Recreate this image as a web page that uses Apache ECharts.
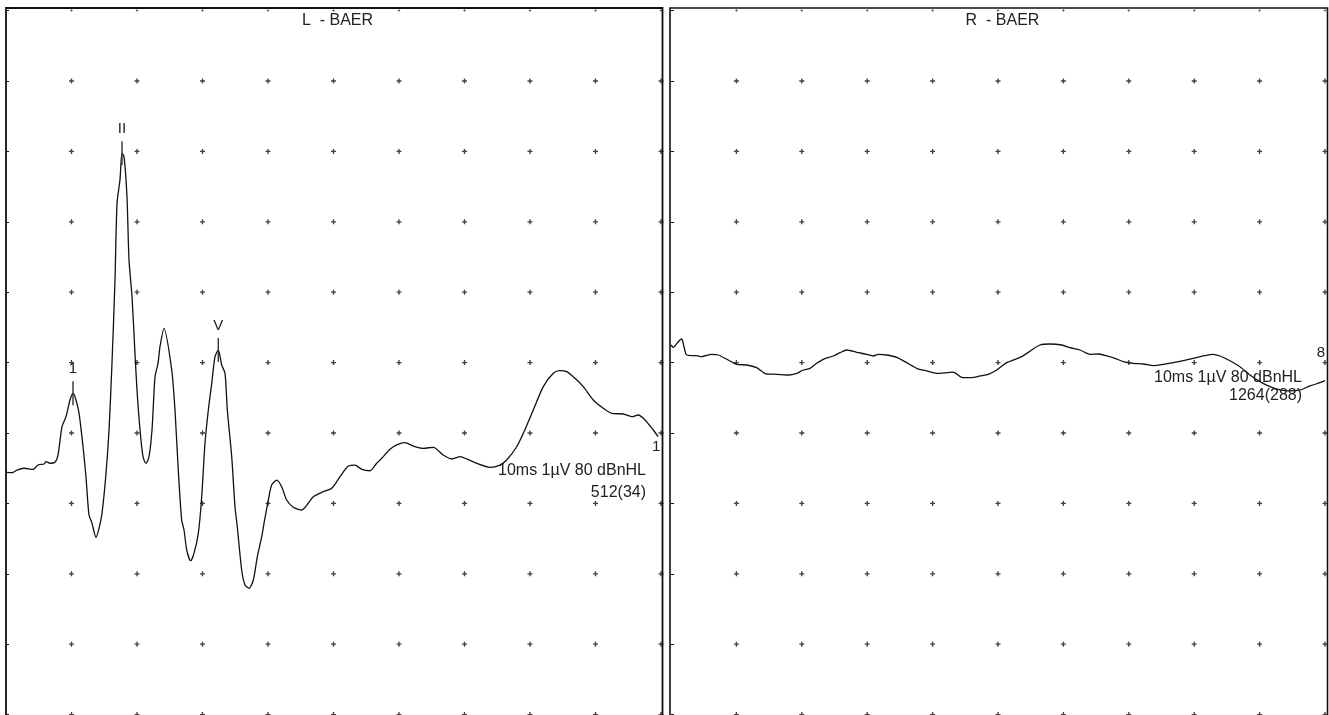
<!DOCTYPE html>
<html>
<head>
<meta charset="utf-8">
<title>BAER</title>
<script src="https://cdn.jsdelivr.net/npm/echarts@6/dist/echarts.min.js"></script>
<style>
html, body { margin: 0; padding: 0; background: #fff; }
#chart { width: 1329px; height: 715px; }
</style>
</head>
<body>
<div id="chart"></div>
<script>
// time in ms, amplitude in divisions
var leftTrace = [
	[0, -1.558], [0.092, -1.564], [0.168, -1.526], [0.275, -1.501], [0.412, -1.516], [0.489, -1.455],
	[0.580, -1.440], [0.611, -1.408], [0.672, -1.430], [0.748, -1.416], [0.794, -1.313], [0.855, -0.911],
	[0.916, -0.768], [0.977, -0.531], [1.023, -0.436], [1.053, -0.484], [1.115, -0.720], [1.176, -1.195],
	[1.221, -1.621], [1.267, -2.165], [1.313, -2.283], [1.374, -2.482], [1.420, -2.354], [1.466, -2.141],
	[1.527, -1.572], [1.573, -0.957], [1.618, -0.010], [1.664, 1.173], [1.695, 2.263], [1.740, 2.594],
	[1.771, 2.973], [1.802, 2.925], [1.847, 2.357], [1.878, 1.457], [1.924, 0.936], [1.969, 0.132],
	[2.000, -0.389], [2.046, -0.957], [2.092, -1.337], [2.137, -1.430], [2.183, -1.337], [2.229, -0.957],
	[2.275, -0.200], [2.321, -0.010], [2.351, 0.226], [2.412, 0.487], [2.530, -0.105], [2.580, -0.673],
	[2.630, -1.526], [2.682, -2.236], [2.718, -2.378], [2.759, -2.662], [2.820, -2.814], [2.870, -2.709],
	[2.936, -2.425], [2.988, -1.905], [3.038, -1.146], [3.089, -0.673], [3.141, -0.294], [3.191, 0.084],
	[3.241, 0.179], [3.293, -0.034], [3.344, -0.152], [3.379, -0.673], [3.446, -1.337], [3.496, -2.047],
	[3.531, -2.331], [3.598, -2.946], [3.649, -3.159], [3.710, -3.206], [3.776, -3.088], [3.837, -2.757],
	[3.904, -2.473], [3.939, -2.283], [4.005, -1.952], [4.056, -1.739], [4.133, -1.668], [4.209, -1.763],
	[4.285, -1.952], [4.386, -2.055], [4.514, -2.094], [4.692, -1.905], [4.844, -1.834], [4.973, -1.786],
	[5.099, -1.621], [5.226, -1.469], [5.328, -1.455], [5.431, -1.516], [5.557, -1.536], [5.659, -1.430],
	[5.736, -1.359], [5.863, -1.232], [5.965, -1.170], [6.092, -1.138], [6.218, -1.185], [6.371, -1.217],
	[6.524, -1.203], [6.676, -1.313], [6.805, -1.369], [6.931, -1.337], [7.034, -1.369], [7.186, -1.430],
	[7.389, -1.487], [7.542, -1.455], [7.644, -1.384], [7.797, -1.195], [7.898, -1.004], [8.050, -0.673],
	[8.203, -0.342], [8.356, -0.152], [8.458, -0.115], [8.560, -0.129], [8.687, -0.223], [8.814, -0.342],
	[8.966, -0.531], [9.119, -0.649], [9.247, -0.720], [9.424, -0.730], [9.553, -0.768], [9.653, -0.744],
	[9.756, -0.815], [9.882, -0.957], [9.958, -1.053]
];

var rightTrace = [
	[0, 0.250], [0.035, 0.217], [0.112, 0.297], [0.164, 0.335], [0.199, 0.226], [0.240, 0.108],
	[0.393, 0.098], [0.469, 0.084], [0.622, 0.118], [0.723, 0.108], [0.852, 0.047], [1.005, -0.024],
	[1.157, -0.034], [1.310, -0.072], [1.463, -0.162], [1.616, -0.166], [1.794, -0.176], [1.922, -0.152],
	[2.023, -0.105], [2.125, -0.081], [2.228, -0.010], [2.329, 0.047], [2.482, 0.094], [2.584, 0.141],
	[2.686, 0.179], [2.839, 0.146], [2.992, 0.118], [3.093, 0.094], [3.170, 0.118], [3.298, 0.108],
	[3.451, 0.075], [3.604, -0.001], [3.757, -0.081], [3.910, -0.119], [4.063, -0.152], [4.216, -0.143],
	[4.317, -0.134], [4.445, -0.209], [4.598, -0.214], [4.725, -0.190], [4.852, -0.166], [4.980, -0.105],
	[5.133, -0.001], [5.362, 0.084], [5.515, 0.179], [5.642, 0.250], [5.795, 0.264], [5.974, 0.250],
	[6.101, 0.212], [6.254, 0.179], [6.407, 0.118], [6.534, 0.122], [6.662, 0.094], [6.789, 0.061],
	[6.916, 0.013], [7.069, -0.010], [7.222, -0.020], [7.375, -0.044], [7.528, -0.024], [7.680, -0.001],
	[7.833, 0.027], [7.986, 0.061], [8.139, 0.094], [8.292, 0.118], [8.394, 0.094], [8.547, 0.027],
	[8.700, -0.058], [8.853, -0.176], [9.006, -0.271], [9.159, -0.342], [9.312, -0.389], [9.465, -0.403],
	[9.618, -0.389], [9.771, -0.332], [9.924, -0.286], [10.0, -0.257]
];

// peak markers on the left trace
var leftPeaks = [
	{ name: '1', coord: [1.023, -0.436] },
	{ name: 'II', coord: [1.771, 2.973] },
	{ name: 'V', coord: [3.241, 0.179] }
];

var xTicks = [1, 2, 3, 4, 5, 6, 7, 8, 9, 10];
var yTicks = [-5, -4, -3, -2, -1, 0, 1, 2, 3, 4, 5];

var titles = ['L  - BAER', 'R  - BAER'];
var infoLines = [['10ms 1µV 80 dBnHL', '512(34)'], ['10ms 1µV 80 dBnHL', '1264(288)']];
var endMarks = ['1', '8'];

var dots = [];
xTicks.forEach(function(x) {
	yTicks.forEach(function(y) {
		dots.push({ value: [x, y], symbolSize: y === 5 ? 2.5 : 5 });
	});
});

var ink = '#111';
var txt = '#222';
var font = '16px "Liberation Sans", Arial, sans-serif';
var plus = 'path://M1.2,0H1.8V3H1.2ZM0.4,1.1H2.6V1.9H0.4Z';

function axisPair(i) {
	return {
		x: {
			type: 'value', gridIndex: i, min: 0, max: 10, interval: 1,
			axisLine: { show: false }, axisTick: { show: false },
			axisLabel: { show: false }, splitLine: { show: false }
		},
		y: {
			type: 'value', gridIndex: i, min: -5, max: 5, interval: 1,
			axisLine: { show: false },
			axisTick: { show: true, inside: true, length: 3, lineStyle: { color: ink } },
			axisLabel: { show: false }, splitLine: { show: false }
		}
	};
}

function label(text, x, y, align) {
	return {
		type: 'text', x: x, y: y, z: 60,
		style: { text: text, font: font, fill: txt, align: align, verticalAlign: 'middle', textAlign: align, textVerticalAlign: 'middle' }
	};
}

var a0 = axisPair(0), a1 = axisPair(1);

var myChart = echarts.init(document.getElementById('chart'));
var option = {
	animation: false,
	grid: [
		{ left: 6, top: 10.6, width: 655, height: 704 },
		{ left: 671, top: 10.6, width: 654, height: 704 }
	],
	xAxis: [a0.x, a1.x],
	yAxis: [a0.y, a1.y],
	graphic: [
		{ type: 'rect', shape: { x: 6, y: 8, width: 656.5, height: 720 }, style: { fill: 'none', stroke: ink, lineWidth: 1.8 }, z: 50 },
		{ type: 'rect', shape: { x: 670, y: 8, width: 657.5, height: 720 }, style: { fill: 'none', stroke: ink, lineWidth: 1.6 }, z: 50 },
		label(titles[0], 337.5, 21, 'center'),
		label(titles[1], 1002.5, 21, 'center'),
		label(infoLines[0][0], 646, 471, 'right'),
		label(infoLines[0][1], 646, 493, 'right'),
		label(infoLines[1][0], 1302, 377.5, 'right'),
		label(infoLines[1][1], 1302, 396, 'right')
	],
	series: [{
		type: 'scatter', xAxisIndex: 0, yAxisIndex: 0, symbol: plus,
		itemStyle: { color: ink }, data: dots, silent: true
	}, {
		type: 'scatter', xAxisIndex: 1, yAxisIndex: 1, symbol: plus,
		itemStyle: { color: ink }, data: dots, silent: true
	}, {
		name: 'L', type: 'line', xAxisIndex: 0, yAxisIndex: 0,
		data: leftTrace, showSymbol: false, smooth: 0.25,
		lineStyle: { color: ink, width: 1.3 },
		markPoint: {
			symbol: 'rect', symbolSize: [1.4, 24],
			itemStyle: { color: '#333' },
			label: { show: true, position: 'top', distance: 5, formatter: '{b}', color: txt, fontSize: 15, fontFamily: 'Liberation Sans' },
			data: leftPeaks.concat([{
				name: endMarks[0], coord: leftTrace[leftTrace.length - 1],
				symbol: 'circle', symbolSize: 1, itemStyle: { color: 'rgba(0,0,0,0)' },
				label: { position: 'inside', offset: [-2, 10] }
			}])
		}
	}, {
		name: 'R', type: 'line', xAxisIndex: 1, yAxisIndex: 1,
		data: rightTrace, showSymbol: false, smooth: 0.25,
		lineStyle: { color: ink, width: 1.3 },
		markPoint: {
			label: { show: true, formatter: '{b}', color: txt, fontSize: 15, fontFamily: 'Liberation Sans' },
			data: [{
				name: endMarks[1], coord: rightTrace[rightTrace.length - 1],
				symbol: 'circle', symbolSize: 1, itemStyle: { color: 'rgba(0,0,0,0)' },
				label: { position: 'inside', offset: [-4, -28] }
			}]
		}
	}]
};

myChart.setOption(option);

window.onresize = function() {
	myChart.resize();
};
</script>
</body>
</html>
